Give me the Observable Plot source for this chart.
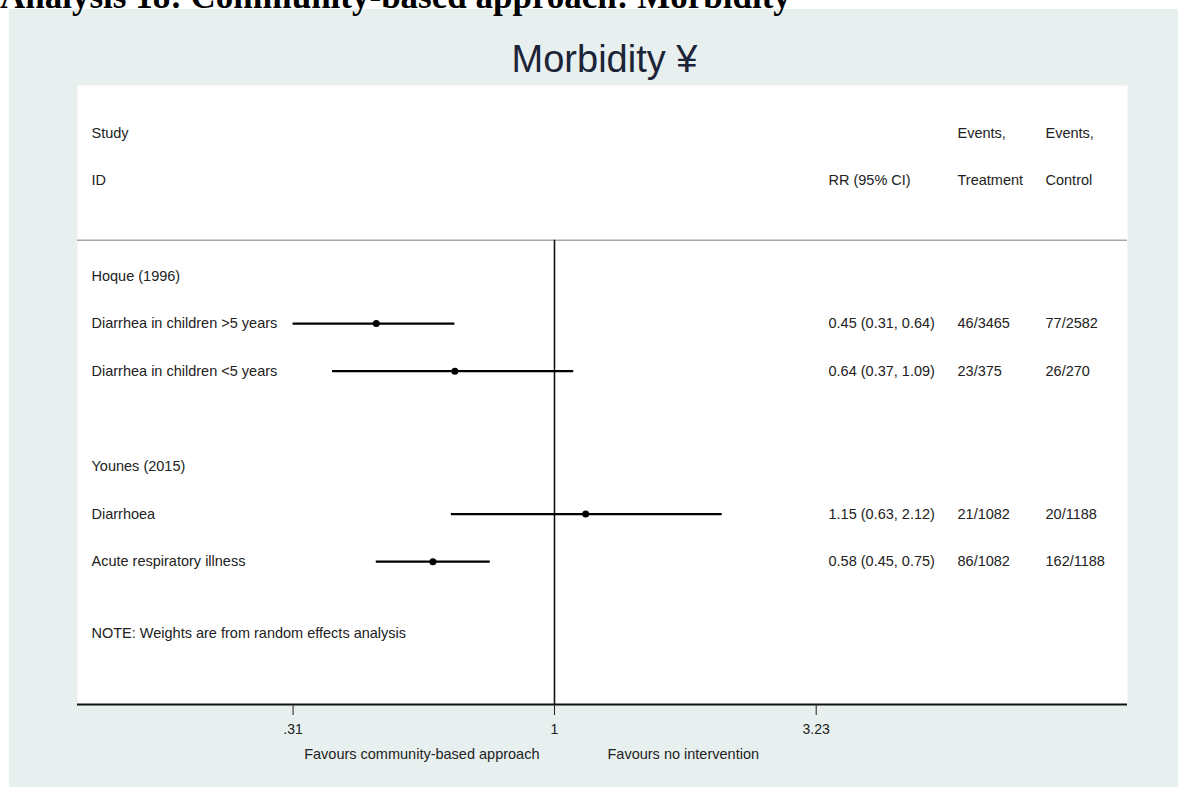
<!DOCTYPE html>
<html><head><meta charset="utf-8">
<script src="https://cdn.jsdelivr.net/npm/d3@7"></script>
<script src="https://cdn.jsdelivr.net/npm/@observablehq/plot@0.6"></script>
<style>
html,body{margin:0;padding:0;background:#fff;width:1178px;height:787px;overflow:hidden;position:relative}
#pagetitle{position:absolute;left:0;top:-21px;font:bold 35px "Liberation Serif","Times New Roman",serif;line-height:35px;white-space:nowrap;color:#000;z-index:2}
#panel{position:absolute;left:9px;top:9px;width:1169px;height:778px;background:#e7efef}
#ptitle{position:absolute;left:0;top:31px;width:1191px;text-align:center;font:38px "Liberation Sans",Arial,sans-serif;line-height:38px;color:#1c2438}
#chart{position:absolute;left:0;top:0}
</style>
</head><body>
<div id="pagetitle">Analysis 18: Community-based approach: Morbidity</div>
<div id="panel">
  <div id="ptitle">Morbidity ¥</div>
  <div id="chart"></div>
</div>
<script>
// ---- data ----
const studies = ["Hoque (1996)", "Younes (2015)"];
const outcomeStudy = ["Hoque (1996)", "Hoque (1996)", "Younes (2015)", "Younes (2015)"];
const outcomes = ["Diarrhea in children >5 years", "Diarrhea in children <5 years", "Diarrhoea", "Acute respiratory illness"];
const rr = [0.45, 0.64, 1.15, 0.58];
const ciLow = [0.31, 0.37, 0.63, 0.45];
const ciHigh = [0.64, 1.09, 2.12, 0.75];
const eventsTreatment = ["46/3465", "23/375", "21/1082", "86/1082"];
const eventsControl = ["77/2582", "26/270", "20/1188", "162/1188"];
const xTicks = [0.31, 1, 3.23];
const xTickLabels = [".31", "1", "3.23"];
const favoursLabels = ["Favours community-based approach", "Favours no intervention"];
const noteText = "NOTE: Weights are from random effects analysis";
const headerTop = ["Study", "", "Events,", "Events,"];
const headerBottom = ["ID", "RR (95% CI)", "Treatment", "Control"];

// ---- build rows (study heading, its outcomes, blank line) ----
const f2 = d3.format(".2f");
const headingRows = [];
const outcomeRows = [];
let r = 1;
for (const s of studies) {
  headingRows.push({label: s, row: r});
  r++;
  outcomes.forEach((o, i) => {
    if (outcomeStudy[i] !== s) return;
    outcomeRows.push({
      label: o, row: r, rr: rr[i], lo: ciLow[i], hi: ciHigh[i],
      est: `${f2(rr[i])} (${f2(ciLow[i])}, ${f2(ciHigh[i])})`,
      et: eventsTreatment[i], ec: eventsControl[i]
    });
    r++;
  });
  r++;
}
const noteRow = r - 0.5;
const yTop = -3, yBottom = r + 1;
const headerRule = 0.25;

// column offsets from the left edge of the frame
const colX = [14, 751, 880, 968];
const font = "Liberation Sans, Arial, sans-serif";
const FS = 14.5;
const txt = {frameAnchor: "left", textAnchor: "start", fontSize: FS, fill: "#222"};

const headerCells = [];
headerTop.forEach((t, i) => { if (t) headerCells.push({t, col: i, row: -2}); });
headerBottom.forEach((t, i) => { if (t) headerCells.push({t, col: i, row: -1}); });

const chart = Plot.plot({
  width: 1169,
  height: 778,
  marginLeft: 68,
  marginRight: 51,
  marginTop: 76,
  marginBottom: 83,
  style: {background: "transparent", fontFamily: font, color: "#222"},
  x: {type: "log", domain: [0.118, 13.03], axis: null},
  y: {domain: [yTop, yBottom], reverse: true, axis: null},
  marks: [
    Plot.frame({fill: "white", stroke: "none"}),
    Plot.ruleY([headerRule], {stroke: "#a8a8a8", strokeWidth: 1.5}),
    Plot.ruleX([1], {y1: headerRule, y2: yBottom, stroke: "#111", strokeWidth: 1.6}),
    Plot.ruleY([yBottom], {stroke: "#111", strokeWidth: 2}),
    Plot.axisX({ticks: xTicks, tickFormat: d => xTickLabels[xTicks.indexOf(d)], tickSize: 11, tickPadding: 9, fontSize: 14, label: null, stroke: "#222", fill: "#222"}),
    // headers
    ...[0, 1, 2, 3].map(c => Plot.text(headerCells.filter(d => d.col === c), {...txt, y: "row", text: "t", dx: colX[c]})),
    // study headings
    Plot.text(headingRows, {...txt, y: "row", text: "label", dx: colX[0]}),
    // outcomes
    Plot.text(outcomeRows, {...txt, y: "row", text: "label", dx: colX[0]}),
    Plot.text(outcomeRows, {...txt, y: "row", text: "est", dx: colX[1]}),
    Plot.text(outcomeRows, {...txt, y: "row", text: "et", dx: colX[2]}),
    Plot.text(outcomeRows, {...txt, y: "row", text: "ec", dx: colX[3]}),
    Plot.text([noteText], {...txt, y: [noteRow], text: d => d, dx: colX[0]}),
    // CIs and estimates
    Plot.ruleY(outcomeRows, {y: "row", x1: "lo", x2: "hi", stroke: "#000", strokeWidth: 2.2}),
    Plot.dot(outcomeRows, {y: "row", x: "rr", r: 3.5, fill: "#000", stroke: "none"}),
    // favours labels
    Plot.text([favoursLabels[0]], {x: [1], y: [yBottom], text: d => d, textAnchor: "end", dx: -15, dy: 50, fontSize: FS, fill: "#222"}),
    Plot.text([favoursLabels[1]], {x: [1], y: [yBottom], text: d => d, textAnchor: "start", dx: 53, dy: 50, fontSize: FS, fill: "#222"})
  ]
});
document.getElementById("chart").appendChild(chart);
</script>
</body></html>
